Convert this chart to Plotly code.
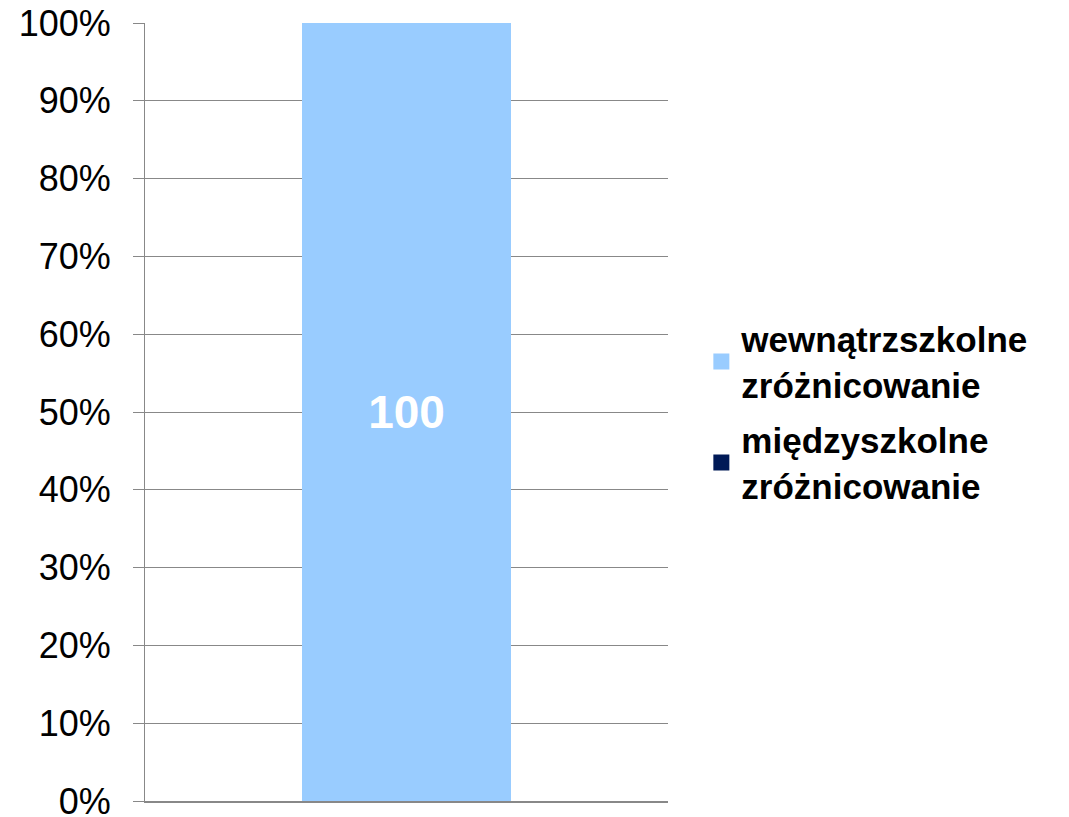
import plotly.graph_objects as go

categories = [""]
series_names = ["wewnątrzszkolne<br>zróżnicowanie", "międzyszkolne<br>zróżnicowanie"]
within_values = [100]
between_values = [0]
series_colors = ["#99CCFF", "#001A57"]
tick_vals = [0, 10, 20, 30, 40, 50, 60, 70, 80, 90, 100]
tick_text = ["0%", "10%", "20%", "30%", "40%", "50%", "60%", "70%", "80%", "90%", "100%"]

fig = go.Figure()
fig.add_trace(go.Bar(
    x=categories, y=within_values, name=series_names[0],
    marker=dict(color=series_colors[0], line=dict(width=0)),
    text=[str(v) for v in within_values], textposition="inside",
    insidetextanchor="middle",
    textfont=dict(family="Liberation Sans, Arial", size=46, color="white", weight="bold"),
    showlegend=False,
))
fig.add_trace(go.Bar(
    x=categories, y=between_values, name=series_names[1],
    marker=dict(color=series_colors[1], line=dict(width=0)),
    showlegend=False,
))
# legend entries (square swatches)
for name, color, grp in zip(series_names, series_colors, ["a", "b"]):
    fig.add_trace(go.Scatter(
        x=[None], y=[None], mode="markers", name=name,
        marker=dict(symbol="square", size=18, color=color),
        legendgroup=grp, showlegend=True,
    ))

fig.update_layout(
    width=1069, height=817,
    margin=dict(l=137, r=409, t=15, b=24),
    barmode="stack", bargap=0.6,
    plot_bgcolor="white", paper_bgcolor="white",
    font=dict(family="Liberation Sans, Arial", color="black"),
    showlegend=True,
    legend=dict(
        xref="container", yref="container",
        x=0.6486, y=0.5055, yanchor="middle", xanchor="left",
        traceorder="grouped", tracegroupgap=7,
        itemwidth=30,
        font=dict(size=35, weight="bold", color="black"),
        bgcolor="rgba(0,0,0,0)",
    ),
    yaxis=dict(
        range=[0, 100], tickvals=tick_vals, ticktext=tick_text,
        showgrid=True, gridcolor="#888888", gridwidth=1,
        showline=True, linecolor="#888888", linewidth=1,
        ticks="outside", ticklen=11, tickcolor="#888888",
        ticklabelstandoff=15, ticklabeloverflow="allow",
        tickfont=dict(size=36, color="black"),
        zeroline=False, automargin=False,
    ),
    xaxis=dict(
        showline=True, linecolor="#888888", linewidth=2,
        showticklabels=False, ticks="", showgrid=False, automargin=False,
    ),
)

fig.write_html("out.html")
